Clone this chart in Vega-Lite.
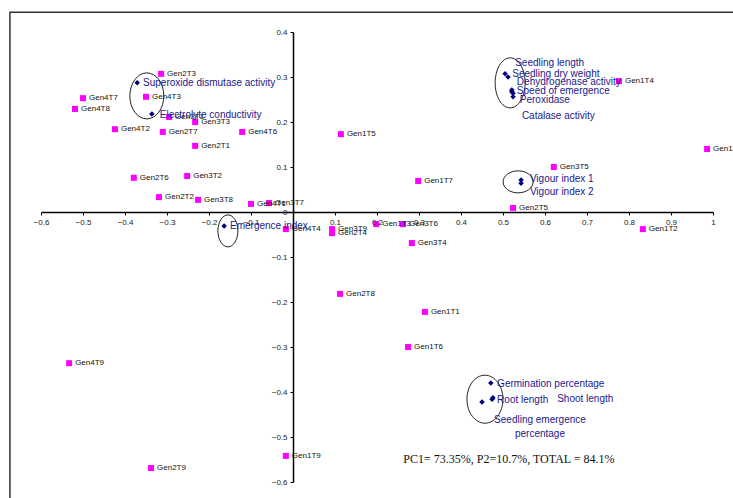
{
  "$schema": "https://vega.github.io/schema/vega-lite/v6.json",
  "width": 672,
  "height": 450,
  "autosize": {"type": "none"},
  "padding": {"left": 41, "top": 32, "right": 20, "bottom": 16},
  "background": "white",
  "config": {
    "view": {"stroke": null},
    "font": "Liberation Sans",
    "axis": {"grid": false, "domainColor": "black", "domainWidth": 1.5, "tickColor": "black", "tickSize": 3, "labelFont": "Liberation Sans", "labelFontSize": 8, "labelColor": "#222"}
  },
  "datasets": {
    "genotypes": [
      {"name": "Gen2T3", "x": -0.314, "y": 0.307},
      {"name": "Gen4T7", "x": -0.500, "y": 0.253},
      {"name": "Gen4T3", "x": -0.350, "y": 0.256},
      {"name": "Gen4T8", "x": -0.519, "y": 0.229},
      {"name": "Gen3T1", "x": -0.295, "y": 0.211},
      {"name": "Gen3T3", "x": -0.233, "y": 0.200},
      {"name": "Gen4T2", "x": -0.424, "y": 0.184},
      {"name": "Gen2T7", "x": -0.310, "y": 0.178},
      {"name": "Gen4T6", "x": -0.121, "y": 0.178},
      {"name": "Gen2T1", "x": -0.233, "y": 0.147},
      {"name": "Gen1T5", "x": 0.114, "y": 0.173},
      {"name": "Gen2T6", "x": -0.379, "y": 0.076},
      {"name": "Gen3T2", "x": -0.252, "y": 0.080},
      {"name": "Gen2T2", "x": -0.319, "y": 0.033},
      {"name": "Gen3T8", "x": -0.226, "y": 0.027},
      {"name": "Gen4T1", "x": -0.100, "y": 0.018},
      {"name": "Gen3T7", "x": -0.057, "y": 0.020},
      {"name": "Gen4T4", "x": -0.017, "y": -0.038},
      {"name": "Gen3T9", "x": 0.093, "y": -0.038},
      {"name": "Gen2T4", "x": 0.093, "y": -0.047},
      {"name": "Gen1T3", "x": 0.198, "y": -0.027},
      {"name": "Gen3T6", "x": 0.262, "y": -0.027},
      {"name": "Gen3T4", "x": 0.283, "y": -0.069},
      {"name": "Gen2T8", "x": 0.112, "y": -0.182},
      {"name": "Gen1T7", "x": 0.298, "y": 0.069},
      {"name": "Gen1T4", "x": 0.776, "y": 0.291},
      {"name": "Gen1T8", "x": 0.986, "y": 0.140},
      {"name": "Gen3T5", "x": 0.621, "y": 0.100},
      {"name": "Gen2T5", "x": 0.524, "y": 0.009},
      {"name": "Gen1T2", "x": 0.833, "y": -0.038},
      {"name": "Gen1T1", "x": 0.314, "y": -0.222},
      {"name": "Gen1T6", "x": 0.274, "y": -0.300},
      {"name": "Gen4T9", "x": -0.533, "y": -0.336},
      {"name": "Gen2T9", "x": -0.338, "y": -0.569},
      {"name": "Gen1T9", "x": -0.017, "y": -0.542}
    ],
    "traits": [
      {"trait": "Superoxide dismutase activity", "x": -0.371, "y": 0.287, "lx": -0.357, "ly": 0.287},
      {"trait": "Electrolyte conductivity", "x": -0.336, "y": 0.218, "lx": -0.317, "ly": 0.216},
      {"trait": "Emergence index", "x": -0.164, "y": -0.031, "lx": -0.150, "ly": -0.031},
      {"trait": "Seedling length", "x": 0.505, "y": 0.307, "lx": 0.529, "ly": 0.331},
      {"trait": "Seedling dry weight", "x": 0.512, "y": 0.300, "lx": 0.522, "ly": 0.307},
      {"trait": "Dehydrogenase activity", "x": 0.521, "y": 0.271, "lx": 0.533, "ly": 0.289},
      {"trait": "Speed of emergence", "x": 0.524, "y": 0.264, "lx": 0.533, "ly": 0.269},
      {"trait": "Peroxidase", "x": 0.524, "y": 0.256, "lx": 0.540, "ly": 0.249},
      {"trait": "Catalase activity", "x": 0.521, "y": 0.267, "lx": 0.545, "ly": 0.213},
      {"trait": "Vigour index 1", "x": 0.543, "y": 0.071, "lx": 0.564, "ly": 0.073},
      {"trait": "Vigour index 2", "x": 0.543, "y": 0.064, "lx": 0.564, "ly": 0.044},
      {"trait": "Germination percentage", "x": 0.471, "y": -0.380, "lx": 0.486, "ly": -0.382},
      {"trait": "Root length", "x": 0.474, "y": -0.416, "lx": 0.486, "ly": -0.418},
      {"trait": "Shoot length", "x": 0.476, "y": -0.413, "lx": 0.629, "ly": -0.416},
      {"trait": "Seedling emergence\npercentage", "x": 0.450, "y": -0.422, "lx": 0.588, "ly": -0.462}
    ],
    "rings": [
      {"ring": "E1", "x": -0.348, "y": 0.258},
      {"ring": "E2", "x": -0.155, "y": -0.042},
      {"ring": "E3", "x": 0.517, "y": 0.287},
      {"ring": "E4", "x": 0.536, "y": 0.067},
      {"ring": "E5", "x": 0.457, "y": -0.416}
    ],
    "note": [
      {"text": "PC1= 73.35%, P2=10.7%, TOTAL = 84.1%", "x": 0.514, "y": -0.549}
    ]
  },
  "layer": [
    {
      "data": {"name": "genotypes"},
      "mark": {"type": "point", "shape": "square", "filled": true, "size": 36, "color": "#FF00FF", "opacity": 1},
      "encoding": {
        "x": {"field": "x", "type": "quantitative", "title": null, "scale": {"domain": [-0.6, 1], "nice": false, "zero": false},
          "axis": {"orient": "bottom", "offset": -270, "values": [-0.6, -0.5, -0.4, -0.3, -0.2, -0.1, 0, 0.1, 0.2, 0.3, 0.4, 0.5, 0.6, 0.7, 0.8, 0.9, 1], "labelExpr": "datum.value == 0 ? '' : format(datum.value, '.1~f')", "labelPadding": 3, "labelFlush": false, "zindex": 1}},
        "y": {"field": "y", "type": "quantitative", "title": null, "scale": {"domain": [-0.6, 0.4], "nice": false, "zero": false},
          "axis": {"orient": "left", "offset": -252, "values": [-0.6, -0.5, -0.4, -0.3, -0.2, -0.1, 0, 0.1, 0.2, 0.3, 0.4], "format": ".1~f", "labelPadding": 3, "labelFlush": false, "zindex": 1}}
      }
    },
    {
      "data": {"values": [{}]},
      "mark": {"type": "rect", "fill": null, "stroke": "#333333", "strokeWidth": 1.5, "clip": false},
      "encoding": {
        "x": {"datum": -0.674, "type": "quantitative", "title": null},
        "x2": {"datum": 1.3},
        "y": {"datum": 0.444, "type": "quantitative", "title": null},
        "y2": {"datum": -0.8}
      }
    },
    {
      "data": {"name": "genotypes"},
      "mark": {"type": "text", "align": "left", "baseline": "middle", "dx": 6, "fontSize": 8, "color": "#111111"},
      "encoding": {
        "x": {"field": "x", "type": "quantitative", "title": null},
        "y": {"field": "y", "type": "quantitative", "title": null},
        "text": {"field": "name"}
      }
    },
    {
      "data": {"name": "rings"},
      "mark": {"type": "point", "filled": false, "size": 4, "stroke": "#222222", "strokeWidth": 1, "opacity": 1},
      "encoding": {
        "x": {"field": "x", "type": "quantitative", "title": null},
        "y": {"field": "y", "type": "quantitative", "title": null},
        "shape": {"field": "ring", "type": "nominal", "legend": null, "scale": {"domain": ["E1", "E2", "E3", "E4", "E5"], "range": [
          "M17,0C17,12.7,9.4,23,0,23C-9.4,23,-17,12.7,-17,0C-17,-12.7,-9.4,-23,0,-23C9.4,-23,17,-12.7,17,0Z",
          "M10,0C10,8.8,5.5,16,0,16C-5.5,16,-10,8.8,-10,0C-10,-8.8,-5.5,-16,0,-16C5.5,-16,10,-8.8,10,0Z",
          "M15,0C15,13.8,8.3,25,0,25C-8.3,25,-15,13.8,-15,0C-15,-13.8,-8.3,-25,0,-25C8.3,-25,15,-13.8,15,0Z",
          "M15,0C15,6.1,8.3,11,0,11C-8.3,11,-15,6.1,-15,0C-15,-6.1,-8.3,-11,0,-11C8.3,-11,15,-6.1,15,0Z",
          "M18,0C18,13.3,9.9,24,0,24C-9.9,24,-18,13.3,-18,0C-18,-13.3,-9.9,-24,0,-24C9.9,-24,18,-13.3,18,0Z"
        ]}}
      }
    },
    {
      "data": {"name": "traits"},
      "mark": {"type": "point", "shape": "diamond", "filled": true, "size": 30, "color": "#000080", "opacity": 1},
      "encoding": {
        "x": {"field": "x", "type": "quantitative", "title": null},
        "y": {"field": "y", "type": "quantitative", "title": null}
      }
    },
    {
      "data": {"name": "traits"},
      "transform": [{"filter": "indexof(datum.trait, '\\n') < 0"}],
      "mark": {"type": "text", "align": "left", "baseline": "middle", "fontSize": 10, "color": "#1a1a8c"},
      "encoding": {
        "x": {"field": "lx", "type": "quantitative", "title": null},
        "y": {"field": "ly", "type": "quantitative", "title": null},
        "text": {"field": "trait"}
      }
    },
    {
      "data": {"name": "traits"},
      "transform": [{"filter": "indexof(datum.trait, '\\n') >= 0"}],
      "mark": {"type": "text", "align": "center", "baseline": "middle", "fontSize": 10, "lineHeight": 14, "lineBreak": "\n", "color": "#1a1a8c"},
      "encoding": {
        "x": {"field": "lx", "type": "quantitative", "title": null},
        "y": {"field": "ly", "type": "quantitative", "title": null},
        "text": {"field": "trait"}
      }
    },
    {
      "data": {"name": "note"},
      "mark": {"type": "text", "align": "center", "baseline": "middle", "font": "Liberation Serif", "fontSize": 12, "color": "#111111"},
      "encoding": {
        "x": {"field": "x", "type": "quantitative", "title": null},
        "y": {"field": "y", "type": "quantitative", "title": null},
        "text": {"field": "text"}
      }
    }
  ]
}
